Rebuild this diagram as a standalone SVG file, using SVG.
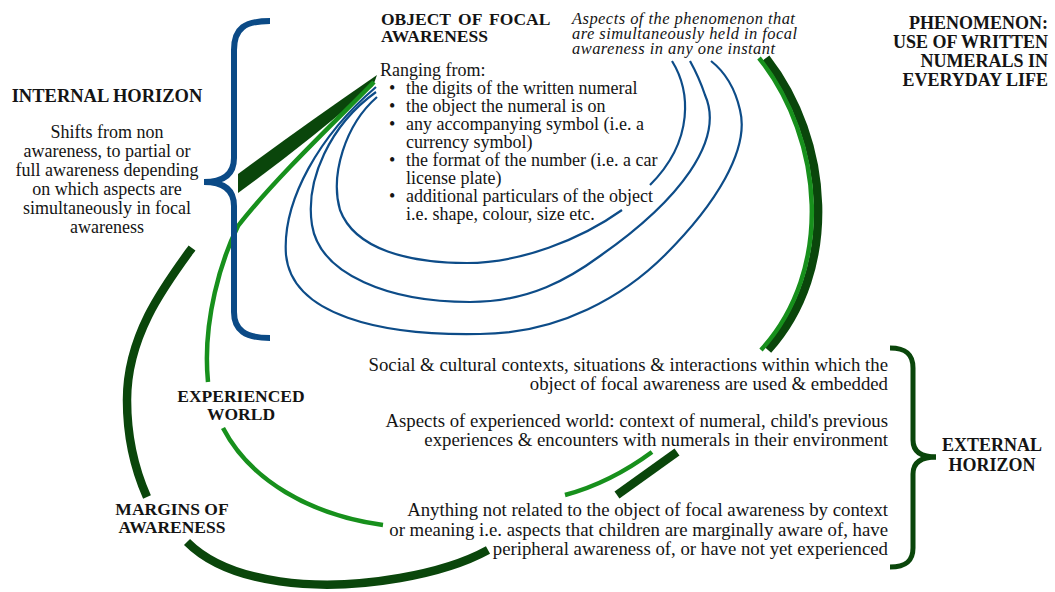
<svg xmlns="http://www.w3.org/2000/svg" width="1055" height="592" viewBox="0 0 1055 592">
  <style>
    .txt { font-family: "Liberation Serif", "Times New Roman", serif; font-size: 18px; fill: #141414; }
    .bold { font-weight: bold; }
    .ital { font-style: italic; font-size: 16.5px; letter-spacing: 0.45px; }
    .mid { text-anchor: middle; }
    .end { text-anchor: end; }
    .ctx { font-size: 18.8px; }
    .blue { fill: none; stroke: #0d4c88; stroke-width: 2.2; stroke-linecap: butt; }
    .dark { fill: none; stroke: #0a460b; stroke-width: 8.5; stroke-linecap: butt; }
    .light { fill: none; stroke: #17901c; stroke-width: 4.5; stroke-linecap: butt; }
    .brace-blue { fill: none; stroke: #0b4a86; stroke-width: 6; stroke-linecap: butt; }
    .brace-green { fill: none; stroke: #0a460b; stroke-width: 5; stroke-linecap: butt; }
  </style>

  <rect width="1055" height="592" fill="#ffffff"/>

  <!-- awareness loops -->
  <g id="connectors">
    <!-- outer (margins of awareness) band, dark green -->
    <path d="M377,75 Q300,128 238,174 L238,193 Q303,146 373,86 Z" fill="#0a460b"/>
    <path class="dark" d="M192,248 C165,285 127,335 127,400 C127,440 135,470 147,497"/>
    <path class="dark" d="M187,542 C230,585 320,592 400,578 C440,571 468,561 488,550"/>
    <path class="dark" d="M617,495 Q645,475 677,452"/>
    <path class="dark" d="M768,350 C840,270 830,140 766,58"/>

    <!-- experienced world band, light green -->
    <path class="light" d="M374,82 C345,112 275,178 238,226 C222,258 202,320 208,382"/>
    <path class="light" d="M223,428 C250,480 310,515 383,525"/>
    <path class="light" d="M565,495 Q610,483 652,452"/>
    <path class="light" d="M761,350 C834,270 824,140 759,58"/>

    <!-- focal awareness rings, blue -->
    <path class="blue" d="M376,87 C320,135 282,200 286,255 C292,315 380,336 480,334 C560,334 625,295 665,255 C715,205 750,150 740,110 C735,88 725,72 711,61"/>
    <path class="blue" d="M376,92 C330,125 305,180 312,225 C320,275 390,302 470,302 C530,302 570,278 600,256 C680,200 725,140 705,95 C700,80 695,70 690,61"/>
    <path class="blue" d="M377,97 C345,125 330,175 340,210 C355,250 410,263 467,263 C520,263 580,240 622,210"/>
    <path class="blue" d="M672,61 C690,90 695,140 650,185"/>
  </g>

  <!-- internal horizon -->
  <g id="internal-horizon">
    <path class="brace-blue" d="M270,21 C245,21 234,28 234,50 L234,158 C234,174 224,182 204,182"/>
    <path class="brace-blue" d="M204,182 C224,182 234,190 234,206 L234,312 C234,330 245,338 270,338"/>
    <text class="txt bold mid" x="107" y="102" style="font-size:18.5px">INTERNAL HORIZON</text>
    <text class="txt mid" x="107" y="138">Shifts from non</text>
    <text class="txt mid" x="107" y="157">awareness, to partial or</text>
    <text class="txt mid" x="107" y="176">full awareness depending</text>
    <text class="txt mid" x="107" y="195">on which aspects are</text>
    <text class="txt mid" x="107" y="214">simultaneously in focal</text>
    <text class="txt mid" x="107" y="233">awareness</text>
  </g>

  <!-- object of focal awareness -->
  <g id="focal-object">
    <text class="txt bold" x="381" y="24.5" style="font-size:17.5px;word-spacing:3px">OBJECT OF FOCAL</text>
    <text class="txt bold" x="381" y="42.3" style="font-size:17.5px">AWARENESS</text>
    <text class="txt" x="380" y="76">Ranging from:</text>
    <g class="txt">
      <text x="389" y="93.5">•</text>
      <text x="406" y="93.5">the digits of the written numeral</text>
      <text x="389" y="111.7">•</text>
      <text x="406" y="111.7">the object the numeral is on</text>
      <text x="389" y="129.8">•</text>
      <text x="406" y="129.8">any accompanying symbol (i.e. a</text>
      <text x="406" y="147.8">currency symbol)</text>
      <text x="389" y="166">•</text>
      <text x="406" y="166">the format of the number (i.e. a car</text>
      <text x="406" y="184">license plate)</text>
      <text x="389" y="202">•</text>
      <text x="406" y="202">additional particulars of the object</text>
      <text x="406" y="220">i.e. shape, colour, size etc.</text>
    </g>
  </g>

  <!-- note on simultaneity -->
  <g id="aspects-note">
    <text class="txt ital" x="572" y="24">Aspects of the phenomenon that</text>
    <text class="txt ital" x="572" y="39">are simultaneously held in focal</text>
    <text class="txt ital" x="572" y="54">awareness in any one instant</text>
  </g>

  <!-- phenomenon title -->
  <g id="phenomenon">
    <text class="txt bold end" x="1048" y="29">PHENOMENON:</text>
    <text class="txt bold end" x="1048" y="48">USE OF WRITTEN</text>
    <text class="txt bold end" x="1048" y="67">NUMERALS IN</text>
    <text class="txt bold end" x="1048" y="86">EVERYDAY LIFE</text>
  </g>

  <!-- experienced world -->
  <g id="experienced-world">
    <text class="txt bold mid" x="241" y="401.5" style="font-size:17.5px">EXPERIENCED</text>
    <text class="txt bold mid" x="241" y="419.5" style="font-size:17.5px">WORLD</text>
  </g>

  <!-- margins of awareness -->
  <g id="margins">
    <text class="txt bold mid" x="172" y="515" style="font-size:17.5px">MARGINS OF</text>
    <text class="txt bold mid" x="172" y="533" style="font-size:17.5px">AWARENESS</text>
  </g>

  <!-- external horizon descriptions -->
  <g id="context-social">
    <text class="txt ctx end" x="888" y="371">Social &amp; cultural contexts, situations &amp; interactions within which the</text>
    <text class="txt ctx end" x="888" y="389.5">object of focal awareness are used &amp; embedded</text>
  </g>
  <g id="context-experienced">
    <text class="txt ctx end" x="888" y="427">Aspects of experienced world: context of numeral, child's previous</text>
    <text class="txt ctx end" x="888" y="446">experiences &amp; encounters with numerals in their environment</text>
  </g>
  <g id="context-margins">
    <text class="txt ctx end" x="888" y="516">Anything not related to the object of focal awareness by context</text>
    <text class="txt ctx end" x="888" y="535.5">or meaning i.e. aspects that children are marginally aware of, have</text>
    <text class="txt ctx end" x="888" y="555">peripheral awareness of, or have not yet experienced</text>
  </g>

  <!-- external horizon -->
  <g id="external-horizon">
    <path class="brace-green" d="M890,348 C906,348 913,354 913,368 L913,440 C913,452 922,457 936,457"/>
    <path class="brace-green" d="M936,457 C922,457 913,462 913,474 L913,548 C913,561 906,567 890,567"/>
    <text class="txt bold mid" x="992" y="451">EXTERNAL</text>
    <text class="txt bold mid" x="992" y="471">HORIZON</text>
  </g>
</svg>
